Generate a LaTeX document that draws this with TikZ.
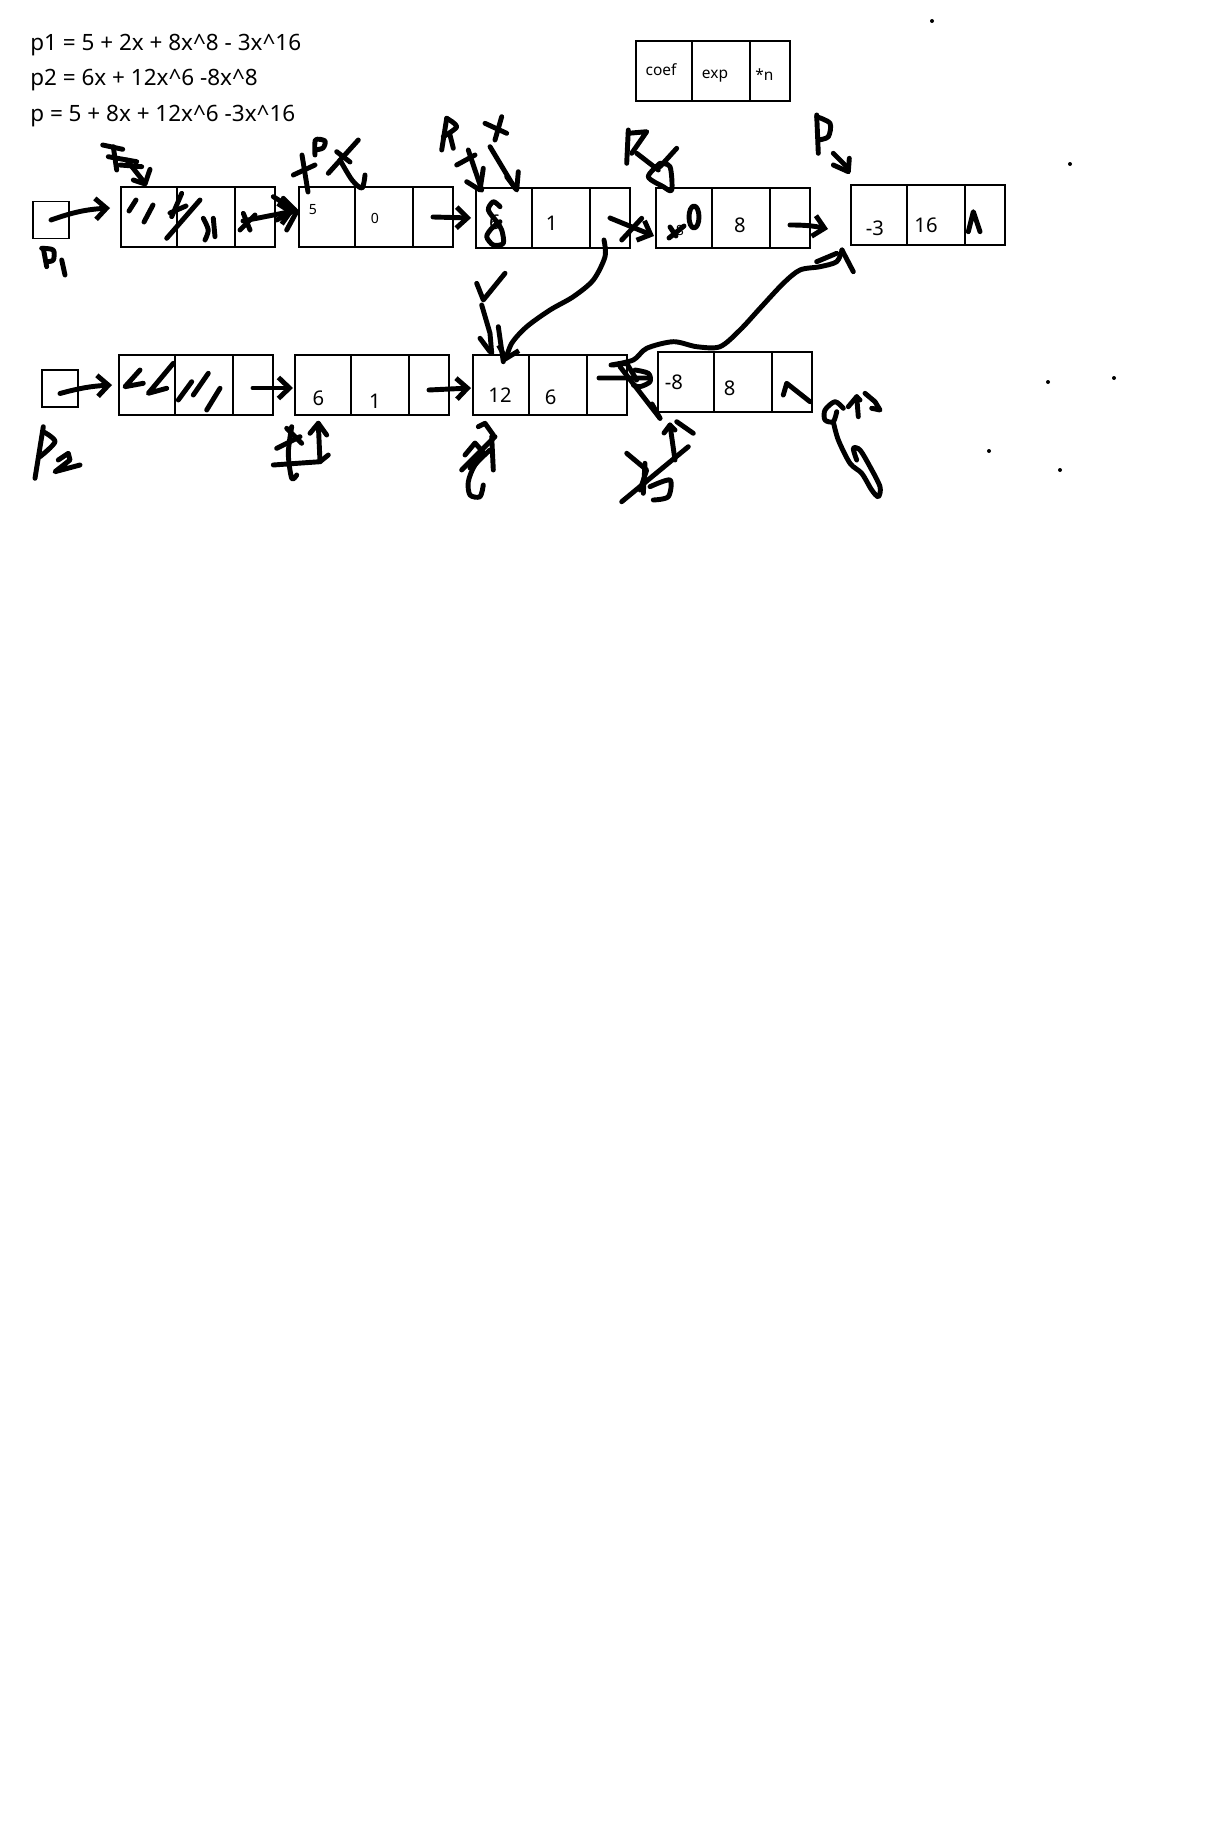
\documentclass[tikz,border=0pt]{standalone}
\usepackage{fontspec}
\setmainfont{Noto Sans}
\usetikzlibrary{arrows.meta, positioning}

% one list node: three cells (coef, exp, next), top left corner at (#2,#3)
\newcommand{\listnode}[3]{%
  \node[cell, minimum width=1.12cm, anchor=north west] (#1-a) at (#2,#3) {};
  \node[cell, minimum width=1.16cm, right=0pt of #1-a] (#1-b) {};
  \node[cell, minimum width=0.8cm, right=0pt of #1-b] (#1-c) {};
}

\begin{document}
\begin{tikzpicture}[
    x=0.02cm, y=-0.02cm,
    cell/.style={rectangle, draw, line width=0.6pt, minimum height=1.2cm, inner sep=0pt, outer sep=0pt},
    ptr/.style={rectangle, draw, line width=0.6pt, minimum width=0.72cm, minimum height=0.74cm, inner sep=0pt, outer sep=0pt},
    val/.style={inner sep=0pt, font=\fontsize{11.5}{13}\selectfont},
    tiny/.style={inner sep=0pt, font=\fontsize{8}{10}\selectfont},
    keytext/.style={inner sep=0pt, font=\fontsize{8.8}{10}\selectfont},
    eq/.style={anchor=base west, inner sep=0pt, font=\fontsize{12.8}{15}\selectfont},
    ink/.style={line width=2.8pt, line cap=round, line join=round},
    hand/.style={ink, -{Straight Barb[length=0.22cm, width=0.42cm]}},
    dot/.style={circle, fill, inner sep=0pt, minimum size=0.08cm},
]
\useasboundingbox (0,0) rectangle (1225,1842);

% polynomials
\node[eq] (eq1) at (30,51) {p1 = 5 + 2x + 8x\^{}8 - 3x\^{}16};
\node[eq] (eq2) at (30,86) {p2 = 6x + 12x\^{}6 -8x\^{}8};
\node[eq] (eq3) at (30,121.5) {p = 5 + 8x + 12x\^{}6 -3x\^{}16};

% key
\listnode{key}{636}{41}
\node[keytext] (key-t1) at (661,70) {coef};
\node[keytext] (key-t2) at (715,76) {exp};
\node[keytext] (key-t3) at (764.5,75) {*n};

% list p1
\node[ptr] (p1box) at (51,220) {};
\listnode{A}{121}{187}
\listnode{B}{299}{187}
\listnode{C}{476}{188}
\listnode{D}{656}{188}
\listnode{E}{851}{185}
\node[tiny] (B-t1) at (313,210) {5};
\node[tiny] (B-t2) at (375,218) {0};
\node[val] (C-t1) at (495,222) {6};
\node[val] (C-t2) at (551.7,223) {1};
\node[tiny] (D-t1) at (680,230) {8};
\node[val] (D-t2) at (740,225) {8};
\node[val] (E-t1) at (875,228) {-3};
\node[val] (E-t2) at (926,225) {16};

% list p2
\node[ptr] (p2box) at (60,388.5) {};
\listnode{F}{119}{355}
\listnode{G}{295}{355}
\listnode{H}{473}{355}
\listnode{I}{658}{352}
\node[val] (G-t1) at (318.3,398.3) {6};
\node[val] (G-t2) at (375,401) {1};
\node[val] (H-t1) at (500,394.7) {12};
\node[val] (H-t2) at (550.7,397.5) {6};
\node[val] (I-t1) at (673.8,382.5) {-8};
\node[val] (I-t2) at (729.7,388.3) {8};

% dots
\node[dot] (d1) at (932,21) {};
\node[dot] (d2) at (1070,164) {};
\node[dot] (d3) at (1048,382) {};
\node[dot] (d4) at (1114,378) {};
\node[dot] (d5) at (989,451) {};
\node[dot] (d6) at (1060,470) {};

% hand drawn links
\draw[hand] (p1box.center) to[bend left=8] ([xshift=-0.22cm, yshift=0.18cm]A-a.west);
\draw[hand] ([xshift=-0.24cm, yshift=-0.08cm]A-c.center) -- ([xshift=-0.1cm, yshift=0.12cm]B-a.west);
\draw[hand] (B-c.center) -- ([xshift=-0.1cm]C-a.west);
\draw[hand] (C-c.center) -- ([xshift=-0.04cm, yshift=-0.36cm]D-a.west);
\draw[hand] ([yshift=-0.14cm]D-c.center) to[bend left=6] ([xshift=-0.46cm, yshift=-0.28cm]E-a.west);
\draw[hand] ([yshift=-0.1cm]p2box.center) to[bend left=6] ([xshift=-0.14cm]F-a.west);
\draw[hand] ([yshift=-0.06cm]F-c.center) -- ([xshift=-0.04cm, yshift=-0.06cm]G-a.west);
\draw[hand] ([yshift=-0.1cm]G-c.center) -- ([xshift=-0.04cm, yshift=-0.06cm]H-a.west);
\draw[ink] ([xshift=-0.16cm, yshift=0.14cm]H-c.center) -- ([xshift=-0.16cm, yshift=0.08cm]I-a.west);
\draw[hand] plot[smooth] coordinates {([xshift=-0.12cm, yshift=0.16cm]C-c.south) (605,256.7) (593.3,280) (573.3,296.7) (550,310) (526.7,326.7) (511.7,343.3) ([xshift=0.08cm, yshift=-0.14cm]H-a.north)};
\draw[ink] plot[smooth] coordinates {([xshift=-0.32cm, yshift=-0.2cm]H-c.north east) (633.3,360) (646.7,348.3) (673.3,341.7) (696.7,346.7) (720,346.7) (740,330) (760,308.3) (783.3,283.3) (800,270) (820,266.7) (836.7,261.7) ([xshift=-0.18cm, yshift=-0.1cm]E-a.south west)};
\draw[ink] (842,250) -- (853.3,271.7);
\draw[ink] (816.7,261.7) -- (836.7,253.3);

% scribbles row 1
\draw[ink] (102.7,145) -- (122.7,149.3);
\draw[ink] (113.3,146.7) -- (116.7,170);
\draw[ink] (108.3,156.7) -- (136.7,161.7);
\draw[ink] (120,165) -- (141.7,166.7);
\draw[ink] (126.7,160) -- (145,183.3);
\draw[ink] (150,169.3) -- (145,184) -- (133.3,180);
\draw[ink] (129,211) -- (136,200);
\draw[ink] (144,222) -- (153,205);
\draw[ink] (166.7,238.3) -- (200,200);
\draw[ink] (171.7,216.7) -- (181.7,193.3);
\draw[ink] (170,213) -- (186,206);
\draw[ink] plot[smooth] coordinates {(203.3,218.3) (208.3,230) (205,240)};
\draw[ink] (213.3,218.3) -- (215,236.7);
\draw[ink] (243.3,213.3) -- (250,230);
\draw[ink] (240,230) -- (255,215);
\draw[ink] (273.3,196.7) -- (295,210) -- (276.7,220);
\draw[ink] (283.3,198.3) -- (296.7,211.7) -- (286.7,230);
\draw[ink] (302,155) -- (308,192);
\draw[ink] (293.3,175) -- (315,165);
\draw[ink] plot[smooth] coordinates {(315,155) (315.5,140) (325,141) (323,148) (315,150)};
\draw[ink] (328.3,173.3) -- (358.3,140);
\draw[ink] (336.7,151.7) -- (350,162);
\draw[ink] plot[smooth] coordinates {(340,160) (352,180) (362,188) (365,175)};
\draw[ink] (446.7,118.3) -- (441.7,150);
\draw[ink] plot[smooth] coordinates {(446.7,118.3) (456.7,126.7) (443.3,136.7)};
\draw[ink] (450,135) -- (453.3,148.3);
\draw[ink] (468.3,150) -- (481.7,190);
\draw[ink] (456.7,165) -- (475,155);
\draw[ink] (466.7,181.7) -- (480,190) -- (483.3,168.3);
\draw[ink] (485,123.3) -- (506.7,133.3);
\draw[ink] (501.7,116.7) -- (495,140);
\draw[ink] (490,146.7) -- (515,188.3);
\draw[ink] (506.7,176.7) -- (516.7,190) -- (518.3,171.7);
\draw[ink] plot[smooth] coordinates {(500,206.7) (493.3,201.7) (488.3,210) (496.7,221.7) (501.7,230) (503.3,243.3) (493.3,245) (486.7,236.7) (491.7,228.3) (500,221.7)};
\draw[ink] (621.7,240) -- (641.7,218.3);
\draw[ink] (669,238) -- (684,226);
\draw[ink] (670,227) -- (676,236);
\draw[ink] (694,217) ellipse [x radius=0.1cm, y radius=0.22cm];
\draw[ink] (628.3,130) -- (626.7,163.3);
\draw[ink] (628.3,133.3) -- (646.7,131.7) -- (631.7,153.3);
\draw[ink] (636.7,153.3) -- (658.3,170);
\draw[ink] (676.7,148.3) -- (660,166.7);
\draw[ink] plot[smooth] coordinates {(660,163.3) (648.3,176.7) (663.3,186.7) (671.7,190) (670,166.7) (660,163.3)};
\draw[ink] (816.7,115) -- (818.3,153.3);
\draw[ink] plot[smooth] coordinates {(816.7,116.7) (830,123.3) (828.3,136.7) (818.3,140)};
\draw[ink] (833.3,153.3) -- (848.3,168.3);
\draw[ink] (833.3,165) -- (848.3,171.7) -- (849.3,158.3);
\draw[ink] (968.3,231.7) -- (973.3,211.7) -- (980,231.7);
\draw[ink] (43.3,248.3) -- (46.7,266.7);
\draw[ink] plot[smooth] coordinates {(41.7,248.3) (53.3,250) (53.3,260) (46.7,261.7)};
\draw[ink] (61.7,260) -- (65,275);

% scribbles row 2
\draw[ink] (43.3,426.7) -- (35,478.3);
\draw[ink] plot[smooth] coordinates {(43.3,431.7) (55,441.7) (40,456.7)};
\draw[ink] (58.3,460) -- (68.3,453.3) -- (70,460) -- (55,471.7) -- (80,465);
\draw[ink] (140,370) -- (125,386.7) -- (143.3,383.3);
\draw[ink] (173.3,363.3) -- (148.3,393.3) -- (166.7,388.3);
\draw[ink] (178.3,400) -- (191.7,381.7);
\draw[ink] (193.3,395) -- (208.3,373.3);
\draw[ink] (206.7,410) -- (220,388.3);
\draw[ink] (273.3,465) -- (320,461.7) -- (328.3,455);
\draw[ink] (318.3,423.3) -- (320,461.7);
\draw[ink] (310,433.3) -- (318.3,423.3) -- (326.7,435);
\draw[ink] plot[smooth] coordinates {(291.7,426.7) (288.3,453.3) (291.7,478.3) (296.7,475)};
\draw[ink] (276.7,448.3) -- (300,436.7);
\draw[ink] (286.7,428.3) -- (301.7,443.3);
\draw[ink] (481.7,305) -- (490,333.3) -- (491.7,353.3);
\draw[ink] (480,338.3) -- (490,351.7);
\draw[ink] (498.3,326.7) -- (503.3,361.7);
\draw[ink] (476.7,283.3) -- (483.3,300) -- (505,273.3);
\draw[ink] (613.3,365) -- (626.7,363.3) -- (636.7,380);
\draw[ink] plot[smooth] coordinates {(635,370) (648.3,373.3) (650,381.7) (640,386.7) (633.3,385)};
\draw[ink] (620,366.7) -- (660,418.3);
\draw[ink] (652,404) -- (660,418.3);
\draw[ink] (783.3,395) -- (786.7,383.3) -- (810,401.7);
\draw[ink] (478.3,426.7) -- (485,423.3) -- (493.3,435);
\draw[ink] (491.7,436.7) -- (493.3,470);
\draw[ink] (461.7,470) -- (495,436.7);
\draw[ink] (465,455) -- (475,443) -- (483,452) -- (470,468);
\draw[ink] plot[smooth] coordinates {(483.3,485) (480,496.7) (470,495) (468.3,481.7) (475,465) (490,450)};
\draw[ink] (670,425) -- (675,460);
\draw[ink] (664,433) -- (670,425) -- (675,430);
\draw[ink] (676.7,421.7) -- (693.3,433.3);
\draw[ink] (621.7,501.7) -- (688.3,446.7);
\draw[ink] (626.7,453.3) -- (646.7,470) -- (640,490);
\draw[ink] (645,463.3) -- (643.3,493.3);
\draw[ink] plot[smooth] coordinates {(650,486.7) (670,480) (668.3,496.7) (653.3,500)};
\draw[ink] plot[smooth] coordinates {(843.3,408.3) (835,401.7) (825,410) (825,420) (833.3,421.7) (836.7,411.7)};
\draw[ink] plot[smooth] coordinates {(833.3,421.7) (838.3,440) (850,463.3) (861.7,473.3) (871.7,490) (878.3,496.7) (880,486.7) (870,466.7) (860,450) (853.3,448.3) (856.7,460)};
\draw[ink] (858.3,416.7) -- (856.7,396.7);
\draw[ink] (848.3,406.7) -- (856.7,396.7) -- (860,400);
\draw[ink] (865,393.3) -- (875,401.7) -- (880,410) -- (871.7,408.3);

\end{tikzpicture}
\end{document}
